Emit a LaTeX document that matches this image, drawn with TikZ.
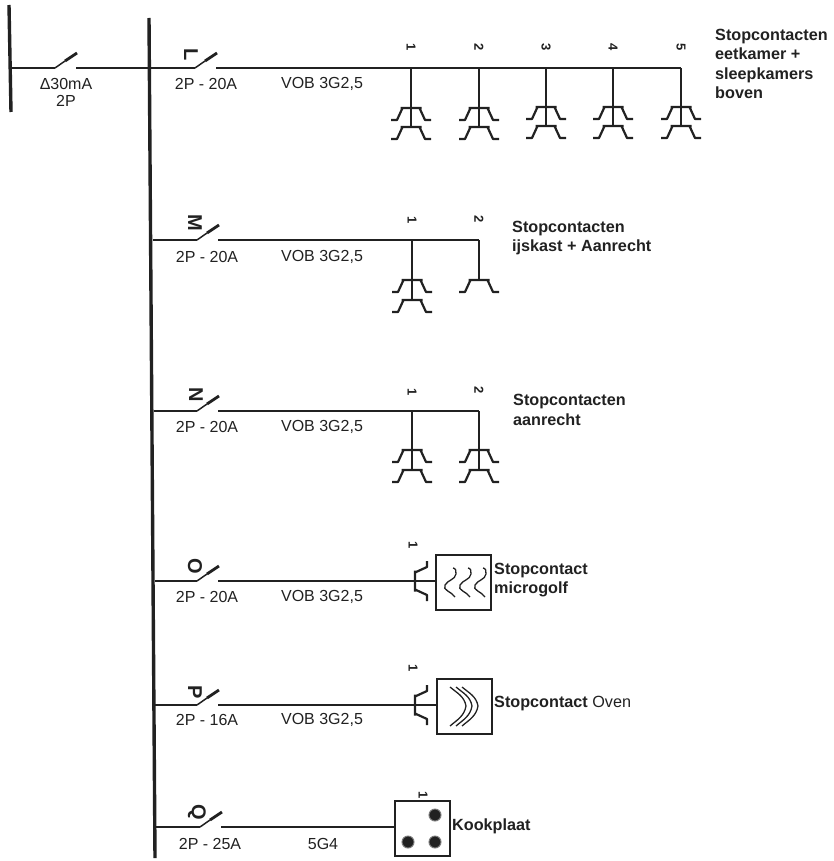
\documentclass[tikz,border=0pt]{standalone}
\usepackage{fontspec}
\setmainfont{Liberation Sans}
\usetikzlibrary{positioning}
\definecolor{ink}{gray}{0.13}
\tikzset{
    wire/.style={draw=ink,line width=1.8pt},
    busbar/.style={draw=ink,line width=3.4pt},
    rating/.style={text=ink,inner sep=0pt,font=\fontsize{16}{18}\selectfont},
    circuit/.style={text=ink,inner sep=0pt,anchor=west,align=left,font=\fontsize{16.2}{19.5}\selectfont\bfseries},
    tag/.style={text=ink,inner sep=0pt,rotate=-90,font=\fontsize{20}{20}\selectfont\bfseries},
    digit/.style={text=ink,inner sep=0pt,rotate=-90,font=\fontsize{13}{13}\selectfont\bfseries},
    appliance/.style={draw=ink,line width=2pt,minimum size=55pt,inner sep=0pt},
    burner/.style={draw=ink!60,fill=ink,line width=1pt,circle,minimum size=12pt,inner sep=0pt},
    breaker/.pic={
        \draw[ink,line width=1.5pt] (0,0) -- (10,-7);
        \draw[ink,line width=2.8pt] (10,-7) -- (22,-15);
    },
    socket/.pic={
        \draw[ink,line width=2.2pt,line join=round]
            (-10.5,0) -- (10.5,0)
            (-8.5,0) -- (-14,12) -- (-20,12)
            (8.5,0) -- (14,12) -- (20,12);
    },
    waves/.pic={
        \draw[ink,line width=1.3pt]
            (-10,-14) to[out=0,in=80] (-7,-8) to[out=-100,in=60] (-18,3) to[out=-120,in=120] (-8,15)
            (5,-14) to[out=0,in=80] (8,-8) to[out=-100,in=60] (-3,3) to[out=-120,in=120] (7,15)
            (20,-14) to[out=0,in=80] (23,-8) to[out=-100,in=60] (12,3) to[out=-120,in=120] (22,15);
    },
    chevrons/.pic={
        \draw[ink,line width=1.3pt]
            (-14,-19) to[out=-40,in=100] (2,0) to[out=-100,in=40] (-14,20)
            (-8,-19) to[out=-40,in=100] (8,0) to[out=-100,in=40] (-8,20)
            (-2,-19) to[out=-40,in=100] (14,0) to[out=-100,in=40] (-2,20);
    },
}
\begin{document}
\begin{tikzpicture}[x=1pt,y=-1pt]
    \useasboundingbox (0,0) rectangle (834,861);
    % bars
    \coordinate (mainT) at (9,5);
    \coordinate (mainB) at (11,112);
    \coordinate (busT)  at (149,18);
    \coordinate (busB)  at (155,858);
    \path[busbar] (mainT) edge (mainB) (busT) edge (busB);
    %
    % main switch
    \coordinate (mainA)  at (10,68);
    \coordinate (mainC)  at (55,68);
    \coordinate (mainD)  at (76,68);
    \coordinate (rowL)   at (150,68);
    \pic at (mainC) {breaker};
    \path[wire] (mainA) edge (mainC) (mainD) edge (rowL);
    \node[rating] (dI)  at (66,84)  {Δ30mA};
    \node[rating] (dIp) at (66,101) {2P};
    %
    % L
    \coordinate (swLa) at (195,68);
    \coordinate (swLb) at (216,68);
    \coordinate (Lt1) at (411,68);
    \coordinate (Lt2) at (479,68);
    \coordinate (Lt3) at (546,68);
    \coordinate (Lt4) at (613,68);
    \coordinate (Lt5) at (681,68);
    \coordinate (Ls1) at (411,108);
    \coordinate (Lp1) at (411,127);
    \coordinate (Ls2) at (479,108);
    \coordinate (Lp2) at (479,127);
    \coordinate (Ls3) at (546,107);
    \coordinate (Lp3) at (546,126);
    \coordinate (Ls4) at (613,107);
    \coordinate (Lp4) at (613,126);
    \coordinate (Ls5) at (681,107);
    \coordinate (Lp5) at (681,126);
    \pic at (swLa) {breaker};
    \path[wire]
        (rowL) edge (swLa)
        (swLb) edge (Lt5)
        (Lt1)  edge (Lp1)
        (Lt2)  edge (Lp2)
        (Lt3)  edge (Lp3)
        (Lt4)  edge (Lp4)
        (Lt5)  edge (Lp5)
    ; %-path-%
    \pic at (Ls1) {socket}; \pic at (Lp1) {socket};
    \pic at (Ls2) {socket}; \pic at (Lp2) {socket};
    \pic at (Ls3) {socket}; \pic at (Lp3) {socket};
    \pic at (Ls4) {socket}; \pic at (Lp4) {socket};
    \pic at (Ls5) {socket}; \pic at (Lp5) {socket};
    \node[tag]    (tagL) at (191,55)  {L};
    \node[rating] (ratL) at (206,84)  {2P - 20A};
    \node[rating] (kabL) at (322,84)  {VOB 3G2,5};
    \node[digit]  (L1)   at (411,47)  {1};
    \node[digit]  (L2)   at (479,47)  {2};
    \node[digit]  (L3)   at (546,47)  {3};
    \node[digit]  (L4)   at (613,47)  {4};
    \node[digit]  (L5)   at (681,47)  {5};
    \node[circuit] (txtL) at (715,64) {Stopcontacten\\eetkamer +\\sleepkamers\\boven};
    %
    % M
    \coordinate (rowM)  at (153,240);
    \coordinate (swMa)  at (197,240);
    \coordinate (swMb)  at (218,240);
    \coordinate (Mt1)   at (412,240);
    \coordinate (Mt2)   at (479,240);
    \coordinate (Ms1)   at (412,280);
    \coordinate (Mp1)   at (412,300);
    \coordinate (Ms2)   at (479,280);
    \pic at (swMa) {breaker};
    \path[wire]
        (rowM) edge (swMa)
        (swMb) edge (Mt2)
        (Mt1)  edge (Mp1)
        (Mt2)  edge (Ms2)
    ; %-path-%
    \pic at (Ms1) {socket}; \pic at (Mp1) {socket};
    \pic at (Ms2) {socket};
    \node[tag]    (tagM) at (195,223) {M};
    \node[rating] (ratM) at (207,257) {2P - 20A};
    \node[rating] (kabM) at (322,257) {VOB 3G2,5};
    \node[digit]  (M1)   at (412,220) {1};
    \node[digit]  (M2)   at (479,219) {2};
    \node[circuit] (txtM) at (512,238) {Stopcontacten\\ijskast + Aanrecht};
    %
    % N
    \coordinate (rowN)  at (154,411);
    \coordinate (swNa)  at (197,411);
    \coordinate (swNb)  at (218,411);
    \coordinate (Nt1)   at (412,411);
    \coordinate (Nt2)   at (479,411);
    \coordinate (Ns1)   at (412,450);
    \coordinate (Np1)   at (412,470);
    \coordinate (Ns2)   at (479,450);
    \coordinate (Np2)   at (479,470);
    \pic at (swNa) {breaker};
    \path[wire]
        (rowN) edge (swNa)
        (swNb) edge (Nt2)
        (Nt1)  edge (Np1)
        (Nt2)  edge (Np2)
    ; %-path-%
    \pic at (Ns1) {socket}; \pic at (Np1) {socket};
    \pic at (Ns2) {socket}; \pic at (Np2) {socket};
    \node[tag]    (tagN) at (196,395) {N};
    \node[rating] (ratN) at (207,427) {2P - 20A};
    \node[rating] (kabN) at (322,427) {VOB 3G2,5};
    \node[digit]  (N1)   at (412,392) {1};
    \node[digit]  (N2)   at (479,390) {2};
    \node[circuit] (txtN) at (513,410) {Stopcontacten\\aanrecht};
    %
    % O
    \coordinate (rowO)  at (155,581);
    \coordinate (swOa)  at (197,581);
    \coordinate (swOb)  at (218,581);
    \coordinate (Os1)   at (415,581);
    \node[appliance] (boxO) at (463.5,582) {};
    \pic at (swOa) {breaker};
    \path[wire]
        (rowO) edge (swOa)
        (swOb) edge (boxO.west |- swOb)
    ; %-path-%
    \pic[rotate=90] at (Os1) {socket};
    \pic at (463,582) {waves};
    \node[tag]    (tagO) at (195,566) {O};
    \node[rating] (ratO) at (207,597) {2P - 20A};
    \node[rating] (kabO) at (322,597) {VOB 3G2,5};
    \node[digit]  (O1)   at (413,545) {1};
    \node[circuit] (txtO) at (494,580) {Stopcontact\\microgolf};
    %
    % P
    \coordinate (rowP)  at (155,705);
    \coordinate (swPa)  at (197,705);
    \coordinate (swPb)  at (218,705);
    \coordinate (Ps1)   at (415,705);
    \node[appliance] (boxP) at (464,706) {};
    \pic at (swPa) {breaker};
    \path[wire]
        (rowP) edge (swPa)
        (swPb) edge (boxP.west |- swPb)
    ; %-path-%
    \pic[rotate=90] at (Ps1) {socket};
    \pic at (464,706) {chevrons};
    \node[tag]    (tagP) at (195,692) {P};
    \node[rating] (ratP) at (207,720) {2P - 16A};
    \node[rating] (kabP) at (322,720) {VOB 3G2,5};
    \node[digit]  (P1)   at (413,668) {1};
    \node[circuit] (txtP) at (494,704) {Stopcontact \mdseries Oven};
    %
    % Q
    \coordinate (rowQ)  at (155,827);
    \coordinate (swQa)  at (200,827);
    \coordinate (swQb)  at (221,827);
    \node[appliance] (boxQ) at (422,828) {};
    \pic at (swQa) {breaker};
    \path[wire]
        (rowQ) edge (swQa)
        (swQb) edge (boxQ.west |- swQb)
    ; %-path-%
    \node[burner] (hobA) at (435,815) {};
    \node[burner] (hobB) at (408,842) {};
    \node[burner] (hobC) at (435,842) {};
    \node[tag]    (tagQ) at (197,812) {Q};
    \node[rating] (ratQ) at (210,844) {2P - 25A};
    \node[rating] (kabQ) at (323,844) {5G4};
    \node[digit]  (Q1)   at (423,795) {1};
    \node[circuit] (txtQ) at (452,826) {Kookplaat};
\end{tikzpicture}
\end{document}
